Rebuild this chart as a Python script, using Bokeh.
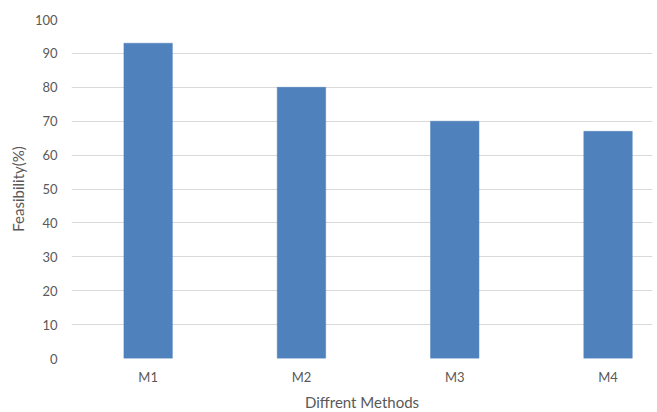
from bokeh.plotting import figure
from bokeh.models import ColumnDataSource, SingleIntervalTicker, FixedTicker, Range1d
from bokeh.embed import file_html
from bokeh.resources import INLINE

# Feasibility of each method, in percent
methods = ["M1", "M2", "M3", "M4"]
feasibility = [93, 80, 70, 67]

# each method occupies one unit slot on the x axis, centred at i + 0.5
slots = [i + 0.5 for i in range(len(methods))]
source = ColumnDataSource(data=dict(x=slots, value=feasibility))

FONT = "Lato"
TEXT = "#595959"

p = figure(
    x_range=Range1d(0, 3.79),
    y_range=Range1d(0, 100),
    frame_width=581,
    frame_height=339,
    output_backend="svg",
    toolbar_location=None,
    min_border_left=71,
    min_border_right=5,
    min_border_top=19,
    min_border_bottom=54,
)

p.vbar(x="x", top="value", width=0.316, source=source,
       fill_color="#4F81BD", line_color="#4F81BD", line_width=0.5)

p.outline_line_color = None
p.xgrid.grid_line_color = None
p.ygrid.grid_line_color = "#d9d9d9"
p.ygrid.grid_line_width = 1

p.yaxis.ticker = SingleIntervalTicker(interval=10)
p.xaxis.ticker = FixedTicker(ticks=slots)
p.xaxis.major_label_overrides = {s: m for s, m in zip(slots, methods)}

for ax in (p.xaxis, p.yaxis):
    ax.axis_line_color = None
    ax.major_tick_line_color = None
    ax.minor_tick_line_color = None
    ax.major_tick_out = 0
    ax.major_tick_in = 0
    ax.minor_tick_out = 0
    ax.major_label_text_font = FONT
    ax.major_label_text_font_size = "13px"
    ax.major_label_text_color = TEXT
    ax.axis_label_text_font = FONT
    ax.axis_label_text_font_size = "15px"
    ax.axis_label_text_font_style = "normal"
    ax.axis_label_text_color = TEXT

p.xaxis.axis_label = "Diffrent Methods"
p.yaxis.axis_label = "Feasibility(%)"
p.yaxis.major_label_standoff = 14
p.xaxis.major_label_standoff = 10
p.yaxis.axis_label_standoff = 5
p.xaxis.axis_label_standoff = 5

open("out.html", "w").write(file_html(p, INLINE))
